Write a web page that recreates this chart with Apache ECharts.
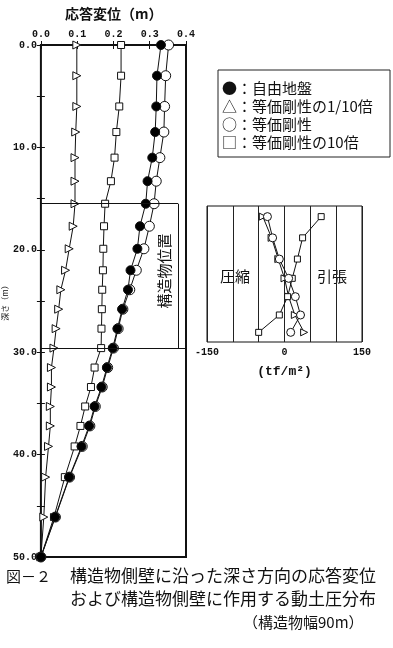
<!DOCTYPE html>
<html><head><meta charset="utf-8">
<script src="https://cdn.jsdelivr.net/npm/echarts@6/dist/echarts.min.js"></script>
<style>html,body{margin:0;padding:0;background:#fff}#c{width:393px;height:648px}</style>
</head><body><div id="c"></div>
<script>
// ---- main chart data: depth (m) and response displacement (m)
const depths   = [0, 3.0, 6.0, 8.5, 11.0, 13.3, 15.5, 17.7, 19.9, 22.0, 23.9, 25.8, 27.7, 29.6, 31.5, 33.4, 35.3, 37.2, 39.2, 42.2, 46.1, 50.0];
const freeField = [0.331,0.320,0.318,0.315,0.307,0.294,0.289,0.273,0.266,0.247,0.240,0.224,0.211,0.198,0.182,0.167,0.148,0.133,0.112,0.078,0.039,0];
const tenthStiff = [0.099,0.099,0.099,0.096,0.094,0.094,0.094,0.089,0.078,0.068,0.055,0.049,0.042,0.036,0.029,0.029,0.026,0.026,0.021,0.013,0.008,0];
const equivStiff = [0.352,0.344,0.341,0.339,0.328,0.318,0.312,0.299,0.284,0.263,0.245,0.226,0.213,0.200,0.184,0.169,0.150,0.135,0.114,0.079,0.040,0];
const tenStiff   = [0.221,0.221,0.216,0.208,0.203,0.193,0.177,0.174,0.172,0.171,0.169,0.168,0.167,0.166,0.148,0.138,0.122,0.109,0.093,0.066,0.036,0];
const xTicks = [0.0, 0.1, 0.2, 0.3, 0.4];
const yTicks = [0, 10, 20, 30, 40, 50];
const structTop = 15.5, structBottom = 29.6, structMarkX = 0.378;

// ---- inset: dynamic earth pressure (tf/m2) along structure wall
const pDepths = [16.6, 18.8, 21.0, 23.0, 24.9, 26.8, 28.6];
const pEquiv  = [-33, -23, -10, 8, 21, 31, 12];
const pTen    = [71, 35, 25, 15, 6, -10, -50];
const pTenth  = [-42, -25, -12, 0, 8, 20, 38];
const pTicks  = [-150, 0, 150];

const pairs = (xs, ys) => xs.map((x, i) => [x, ys[i]]);
const numFont = 'Liberation Mono';
const jpFont = '"Noto Sans CJK JP"';

const lineStyle = {color: '#111', width: 1};
function mainSeries(name, vals, symbol, size, fill, extra) {
  return Object.assign({
    name, type: 'line', xAxisIndex: 0, yAxisIndex: 0,
    data: pairs(vals, depths), symbol, symbolSize: size,
    showAllSymbol: true, lineStyle,
    itemStyle: {color: fill, borderColor: '#111', borderWidth: 1},
    emphasis: {disabled: true}, animation: false
  }, extra || {});
}
function insetSeries(name, vals, symbol, size, fill, extra) {
  return Object.assign({
    name, type: 'line', xAxisIndex: 2, yAxisIndex: 2,
    data: pairs(vals, pDepths), symbol, symbolSize: size,
    showAllSymbol: true, lineStyle,
    itemStyle: {color: fill, borderColor: '#111', borderWidth: 1},
    emphasis: {disabled: true}, animation: false
  }, extra || {});
}
const txt = (x, y, text, size, extra) => Object.assign({
  type: 'text', x, y,
  style: Object.assign({text, font: size + 'px "Noto Sans CJK JP"', fill: '#111', verticalAlign: 'middle'}, (extra && extra.style) || {})
}, extra && extra.rotation ? {rotation: extra.rotation} : {});

const chart = echarts.init(document.getElementById('c'));
chart.setOption({
  backgroundColor: '#fff',
  animation: false,
  title: {
    text: '応答変位（m）', left: 60, top: 2,
    textStyle: {fontFamily: jpFont, fontSize: 14, fontWeight: 'bold', color: '#111'}
  },
  grid: [
    {left: 32, top: 45, width: 154, height: 512, show: true, borderColor: '#111', borderWidth: 2, backgroundColor: 'transparent'},
    {left: 207, top: 206, width: 155, height: 136, show: true, borderColor: '#111', borderWidth: 1, backgroundColor: 'transparent'}
  ],
  xAxis: [
    {gridIndex: 0, type: 'value', position: 'top', min: 0, max: 0.4, interval: 0.1,
     axisLine: {show: false}, splitLine: {show: false},
     axisTick: {show: true, inside: true, length: 4, lineStyle: {color: '#111'}},
     axisLabel: {margin: 6, fontFamily: numFont, fontSize: 10, color: '#111', fontWeight: 'bold',
       formatter: v => xTicks.some(t => Math.abs(t - v) < 1e-9) ? v.toFixed(1) : ''}},
    {gridIndex: 0, type: 'value', position: 'bottom', min: 0, max: 0.4, interval: 0.1,
     axisLine: {show: false}, splitLine: {show: false}, axisLabel: {show: false},
     axisTick: {show: true, inside: true, length: 4, lineStyle: {color: '#111'}}},
    {gridIndex: 1, type: 'value', min: -150, max: 150, interval: 50,
     axisLine: {show: false}, axisTick: {show: false},
     splitLine: {show: true, lineStyle: {color: '#222', width: 1}},
     axisLabel: {margin: 5, fontFamily: numFont, fontSize: 10, color: '#111', fontWeight: 'bold',
       formatter: v => pTicks.includes(v) ? String(v) : ''},
     name: '(tf/m²)', nameLocation: 'middle', nameGap: 23,
     nameTextStyle: {fontFamily: numFont, fontSize: 13, color: '#111', fontWeight: 'bold'}}
  ],
  yAxis: [
    {gridIndex: 0, type: 'value', inverse: true, min: 0, max: 50, interval: 5,
     axisLine: {show: false}, splitLine: {show: false},
     axisTick: {show: true, inside: true, length: 4, lineStyle: {color: '#111'}},
     axisLabel: {margin: 4, fontFamily: numFont, fontSize: 10, color: '#111', fontWeight: 'bold',
       formatter: v => yTicks.includes(v) ? v.toFixed(1) : ''},
     name: '深さ（m）', nameLocation: 'middle', nameGap: 22, nameRotate: 90,
     nameTextStyle: {fontFamily: jpFont, fontSize: 8, color: '#111'}},
    {gridIndex: 0, type: 'value', inverse: true, position: 'right', min: 0, max: 50, interval: 5,
     axisLine: {show: false}, splitLine: {show: false}, axisLabel: {show: false},
     axisTick: {show: true, inside: true, length: 4, lineStyle: {color: '#111'}}},
    {gridIndex: 1, type: 'value', inverse: true, min: structTop, max: structBottom,
     axisLine: {show: false}, axisTick: {show: false}, axisLabel: {show: false}, splitLine: {show: false}}
  ],
  series: [
    mainSeries('等価剛性の1/10倍', tenthStiff, 'triangle', 8, '#fff', {symbolRotate: -90}),
    mainSeries('等価剛性の10倍', tenStiff, 'rect', 7, '#fff'),
    mainSeries('等価剛性', equivStiff, 'circle', 10, '#fff'),
    mainSeries('自由地盤', freeField, 'circle', 9, '#000', {
      markLine: {
        silent: true, symbol: 'none', animation: false, label: {show: false},
        lineStyle: {color: '#111', width: 1, type: 'solid'},
        data: [
          [{coord: [0, structTop]}, {coord: [structMarkX, structTop]}],
          [{coord: [0, structBottom]}, {coord: [0.4, structBottom]}],
          [{coord: [structMarkX, structTop]}, {coord: [structMarkX, structBottom]}]
        ]
      }
    }),
    insetSeries('等価剛性の1/10倍', pTenth, 'triangle', 7, '#fff', {symbolRotate: -90}),
    insetSeries('等価剛性の10倍', pTen, 'rect', 6, '#fff'),
    insetSeries('等価剛性', pEquiv, 'circle', 8, '#fff')
  ],
  graphic: [
    {type: 'rect', shape: {x: 218, y: 70, width: 172, height: 87}, style: {fill: 'none', stroke: '#222', lineWidth: 1}},
    txt(222, 88, '●：自由地盤', 15),
    txt(222, 106, '△：等価剛性の1/10倍', 15),
    txt(222, 124, '○：等価剛性', 15),
    txt(222, 142, '□：等価剛性の10倍', 15),
    txt(164, 271, '構造物位置', 15, {rotation: Math.PI / 2, style: {align: 'center'}}),
    txt(235, 276, '圧縮', 15, {style: {align: 'center'}}),
    txt(332, 276, '引張', 15, {style: {align: 'center'}}),
    txt(6, 576, '図－２', 15),
    txt(70, 576, '構造物側壁に沿った深さ方向の応答変位', 17),
    txt(70, 599, 'および構造物側壁に作用する動土圧分布', 17),
    txt(243, 622, '（構造物幅90m）', 15)
  ]
});
</script></body></html>
